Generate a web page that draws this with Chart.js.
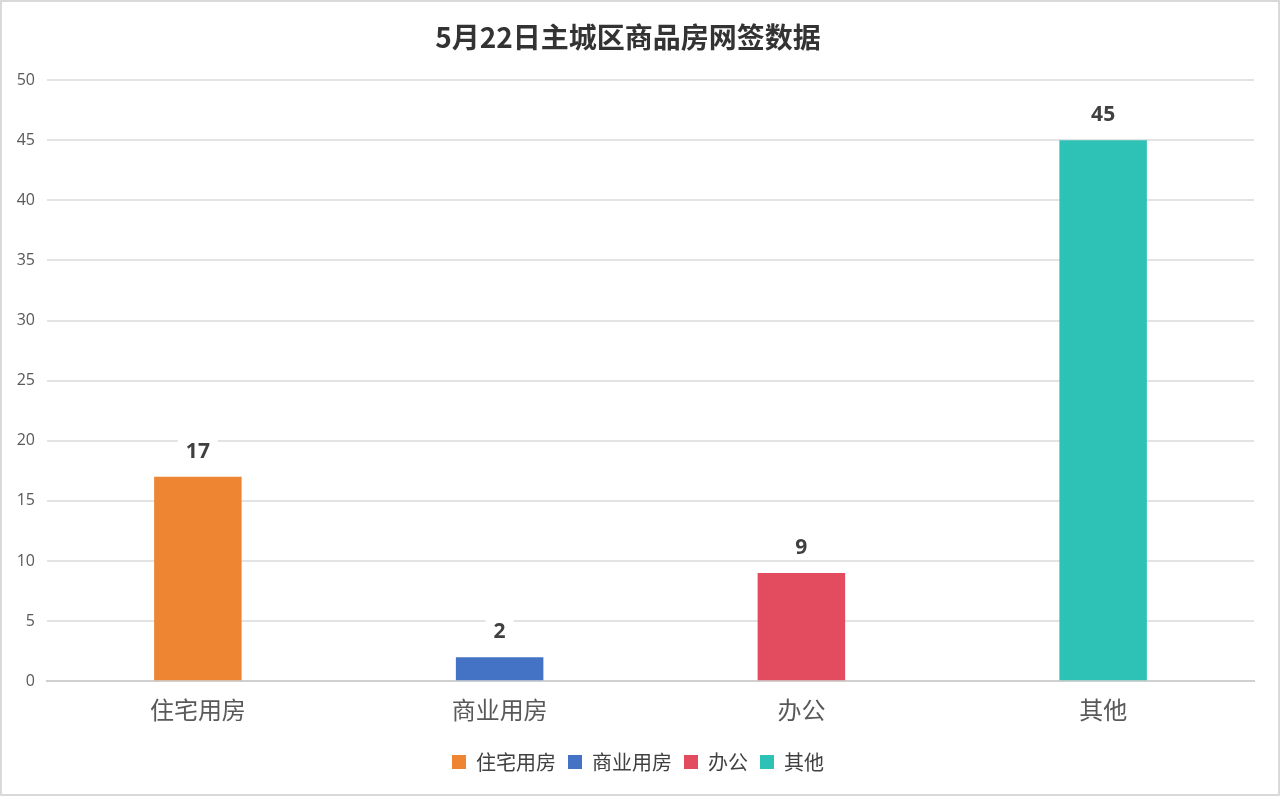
<!DOCTYPE html>
<html>
<head>
<meta charset="utf-8">
<script src="https://cdn.jsdelivr.net/npm/chart.js@4.4.1/dist/chart.umd.min.js"></script>
<style>
  html, body { margin: 0; padding: 0; background: #fff; }
  #wrap {
    width: 1280px; height: 796px; box-sizing: border-box;
    border: 2px solid #d9d9d9; background: #fff;
  }
</style>
</head>
<body>
<div id="wrap"><canvas id="c" width="1276" height="792"></canvas></div>
<script>
// chart data
const categories = ['住宅用房', '商业用房', '办公', '其他'];
const values = [17, 2, 9, 45];
const barColors = ['#ED8533', '#4473C5', '#E34B5F', '#2EC1B5'];
const yTicks = [0, 5, 10, 15, 20, 25, 30, 35, 40, 45, 50];

// value labels above bars, on a white box
const valueLabels = {
  id: 'valueLabels',
  afterDatasetsDraw(chart) {
    const ctx = chart.ctx;
    const meta = chart.getDatasetMeta(0);
    ctx.save();
    ctx.font = 'bold 21px "Open Sans", "Noto Sans", sans-serif';
    ctx.textAlign = 'center';
    ctx.textBaseline = 'middle';
    meta.data.forEach((bar, i) => {
      const txt = String(values[i]);
      const w = ctx.measureText(txt).width + 16;
      const y = bar.y - 26;
      ctx.fillStyle = '#fff';
      ctx.fillRect(bar.x - w / 2, y - 13, w, 26);
      ctx.fillStyle = '#404040';
      ctx.fillText(txt, bar.x, y + 1);
    });
    ctx.restore();
  }
};

// centre the legend on the whole canvas instead of the padded box
const legendShift = {
  id: 'legendShift',
  afterLayout(chart) {
    chart.legend.left += 10;
    chart.legend.right += 10;
  }
};

new Chart(document.getElementById('c'), {
  type: 'bar',
  data: {
    labels: categories,
    datasets: [{
      label: '网签',
      data: values,
      backgroundColor: barColors,
      borderWidth: 0,
      barPercentage: 0.29,
      categoryPercentage: 1.0
    }]
  },
  options: {
    responsive: false,
    animation: false,
    layout: { padding: { left: 0, right: 24, top: 0, bottom: 12 } },
    plugins: {
      title: {
        display: true,
        text: '5月22日主城区商品房网签数据',
        color: '#333333',
        font: { family: '"Noto Sans CJK SC", sans-serif', size: 28, weight: 'bold' },
        padding: { top: 19, bottom: 25.5 }
      },
      legend: {
        position: 'bottom',
        labels: {
          color: '#404040',
          font: { family: '"Noto Sans CJK SC", sans-serif', size: 20 },
          boxWidth: 14,
          boxHeight: 14,
          padding: 12,
          generateLabels(chart) {
            return categories.map((c, i) => ({
              text: c,
              fillStyle: barColors[i],
              strokeStyle: barColors[i],
              lineWidth: 0,
              fontColor: '#404040',
              index: i
            }));
          }
        },
        onClick() {}
      },
      tooltip: { enabled: false }
    },
    scales: {
      x: {
        afterFit(scale) { scale.height += 10; },
        grid: { display: false },
        border: { color: '#d0d0d0', width: 2 },
        ticks: {
          color: '#595959',
          font: { family: '"Noto Sans CJK SC", sans-serif', size: 24 },
          padding: 6
        }
      },
      y: {
        min: 0,
        max: 50,
        afterFit(scale) { scale.width = 45; },
        afterBuildTicks(scale) { scale.ticks = yTicks.map(v => ({ value: v })); },
        grid: { color: '#e3e3e3', lineWidth: 2, drawTicks: false },
        border: { display: false },
        ticks: {
          color: '#595959',
          font: { family: '"Open Sans", "Noto Sans", sans-serif', size: 16 },
          padding: 12
        }
      }
    }
  },
  plugins: [valueLabels, legendShift]
});
</script>
</body>
</html>
